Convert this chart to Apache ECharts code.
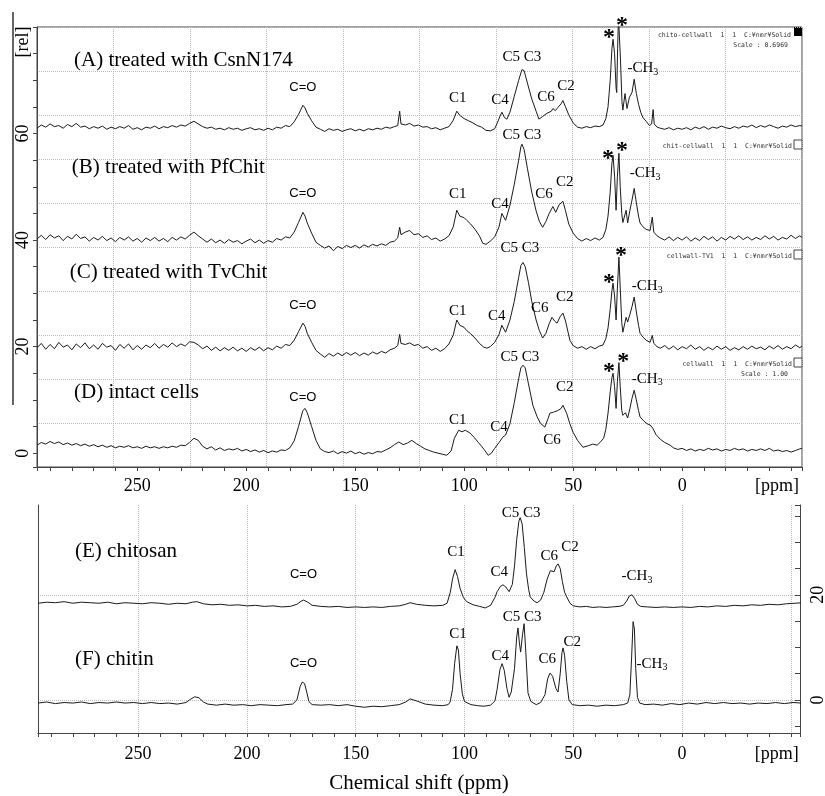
<!DOCTYPE html>
<html>
<head>
<meta charset="utf-8">
<script src="https://cdn.jsdelivr.net/npm/echarts@6/dist/echarts.min.js"></script>
<style>
  html, body { margin: 0; padding: 0; background: #fff; }
  #chart { width: 825px; height: 796px; }
</style>
</head>
<body>
<div id="chart"></div>
<script>
// spectra, [ppm, intensity]
var specA = [[296,61.0],[294,61.6],[292,61.2],[290,61.8],[288,61.3],[286,61.5],[284,61.0],[282,61.7],[280,61.3],[278,61.9],[276,61.2],[274,61.4],[272,60.9],[270,61.3],[268,61.0],[266,61.4],[264,60.8],[262,61.2],[260,60.9],[258,61.3],[256,61.0],[254,61.5],[252,60.8],[250,61.1],[248,60.7],[246,61.2],[244,61.0],[242,61.4],[240,60.9],[238,61.3],[236,61.1],[234,61.5],[232,61.2],[230,61.6],[228,61.4],[226,61.9],[224,62.3],[222,61.8],[220,61.3],[218,61.0],[216,61.2],[214,60.8],[212,61.0],[210,60.7],[208,61.1],[206,60.8],[204,61.0],[202,60.6],[200,60.9],[198,61.1],[196,60.7],[194,60.9],[192,60.6],[190,61.0],[188,60.7],[186,61.2],[184,61.0],[182,61.5],[180,61.3],[178,62.2],[176,63.6],[174,65.3],[173,64.8],[172,63.8],[170,62.4],[168,61.2],[166,60.8],[164,60.4],[162,60.9],[160,60.6],[158,60.8],[156,60.4],[154,60.7],[152,60.9],[150,60.5],[148,60.8],[146,60.5],[144,60.9],[142,60.7],[140,61.0],[138,60.8],[136,61.2],[134,61.0],[132,61.3],[130.5,61.5],[129.6,64.2],[129,61.8],[127,61.6],[125,61.9],[123,61.4],[121,61.6],[119,61.2],[117,61.3],[115,60.9],[113,61.1],[111,60.7],[109,61.0],[107,61.3],[105,62.5],[103.4,64.2],[102,63.4],[100,62.8],[98,62.4],[96,62.0],[94,61.5],[92,61.2],[90,60.6],[88,60.5],[86,60.9],[85,61.8],[83.5,63.3],[82.7,64.0],[81.5,63.0],[80.4,62.7],[79,64.0],[77,67.0],[75,70.0],[73.5,72.0],[72.5,71.8],[71,69.5],[69,66.5],[67,64.2],[65.7,62.7],[64,63.2],[62,63.8],[60,64.2],[59.3,64.7],[58.2,64.3],[57,64.9],[55.5,65.6],[54.7,66.2],[53.5,65.0],[52,63.5],[50,62.0],[48,61.2],[46,61.0],[44,61.3],[42,61.1],[40,61.4],[38,61.3],[36.3,61.6],[35,62.8],[34,65.0],[33,70.0],[32.2,76.0],[31.7,77.7],[31,75.0],[30.3,68.5],[30,67.7],[29.6,76],[29.2,82],[28.8,82],[28.3,74],[27.6,66],[27.2,64.4],[26.2,67.5],[25.3,64.7],[24.2,66.8],[23,67.7],[22,70.2],[21,67.5],[20,65.5],[19,64.0],[18,63.0],[16.5,62.3],[15,61.5],[14,61.8],[13.3,64.5],[12.8,61.8],[11.5,61.2],[10,61.0],[8,60.8],[6,61.1],[4,60.7],[2,61.0],[0,60.8],[-2,61.1],[-4,60.7],[-6,61.2],[-8,60.9],[-10,61.3],[-12,60.8],[-14,61.2],[-16,61.0],[-18,61.4],[-20,61.1],[-22,60.9],[-24,61.3],[-26,61.0],[-28,61.4],[-30,61.2],[-32,61.6],[-34,61.1],[-36,61.5],[-38,61.2],[-40,61.6],[-42,61.3],[-44,61.0],[-46,61.4],[-48,61.2],[-50,61.6],[-52,61.3],[-54,61.5],[-55,61.4]];

var specB = [[296,40.2],[294,40.9],[292,40.1],[290,41.0],[288,40.4],[286,40.8],[284,39.9],[282,40.7],[280,40.2],[278,41.1],[276,40.3],[274,40.6],[272,39.8],[270,40.5],[268,40.0],[266,40.7],[264,39.9],[262,40.4],[260,39.7],[258,40.5],[256,40.0],[254,40.6],[252,39.8],[250,40.3],[248,39.6],[246,40.4],[244,39.9],[242,40.5],[240,39.8],[238,40.3],[236,39.7],[234,40.5],[232,40.0],[230,40.6],[228,40.2],[226,40.9],[224,41.5],[222,40.8],[220,40.2],[218,39.6],[216,40.2],[214,39.5],[212,40.0],[210,39.4],[208,40.1],[206,39.6],[204,39.9],[202,39.3],[200,39.8],[198,40.2],[196,39.5],[194,40.0],[192,39.4],[190,39.9],[188,39.6],[186,40.3],[184,40.0],[182,40.6],[180,40.4],[178,41.5],[176,43.3],[174,45.2],[173,44.5],[172,43.2],[170,41.3],[168,39.6],[166,39.0],[164,38.5],[162,38.9],[160,38.0],[158,38.8],[156,38.4],[154,39.0],[152,38.6],[150,39.0],[148,38.5],[146,39.1],[144,38.7],[142,39.2],[140,38.9],[138,39.3],[136,39.0],[134,39.6],[132,39.8],[130.5,40.4],[129.6,42.4],[129,41.0],[127,41.5],[125,41.8],[123,41.0],[121,41.2],[119,40.5],[117,40.8],[115,40.1],[113,40.4],[111,39.8],[109,40.2],[107,40.8],[105,42.5],[103.4,45.6],[102,44.5],[100,44.2],[98.8,43.7],[97,43.0],[95,42.0],[93,40.8],[91.5,39.4],[90,39.2],[88,39.8],[86,40.6],[84,42.5],[82.7,45.0],[81,43.7],[79,46.5],[77,50.5],[75,55.0],[74,57.5],[73.5,58.0],[72.5,57.0],[71,53.5],[69,49.0],[67,45.5],[65.5,43.5],[64,42.4],[62.5,43.5],[61,45.0],[59.3,46.3],[58,45.2],[56.5,46.6],[54.7,47.3],[53.5,45.5],[52,43.0],[50,41.3],[48,40.3],[46,39.8],[44,40.3],[42,39.9],[40,40.4],[38,40.0],[36.3,40.5],[35,42.0],[34,44.5],[33,49.0],[32.2,54.5],[31.7,55.9],[31,52.0],[30.3,45.6],[29.7,52],[29,56.3],[28.4,50],[27.7,45],[27.2,43.3],[25.7,45.6],[25,43.2],[24,45.5],[23,47.5],[22,49.7],[21,47.0],[20,44.5],[19.3,43.2],[18,42.5],[16.5,42.0],[14.7,41.8],[13.7,44.3],[13,41.5],[11.5,40.8],[10,40.4],[8,40.0],[6,40.6],[4,39.9],[2,40.5],[0,40.0],[-2,40.6],[-4,39.8],[-6,40.4],[-8,39.9],[-10,40.7],[-12,40.1],[-14,40.6],[-16,39.8],[-18,40.5],[-20,40.0],[-22,40.7],[-24,40.2],[-26,40.8],[-28,40.1],[-30,40.6],[-32,40.0],[-34,40.5],[-36,40.1],[-38,40.8],[-40,40.2],[-42,40.7],[-44,40.0],[-46,40.5],[-48,40.2],[-50,40.9],[-52,40.3],[-54,40.8],[-55,40.5]];

var specC = [[296,19.8],[294,20.6],[292,19.5],[290,20.4],[288,19.6],[286,20.8],[284,19.9],[282,20.3],[280,19.4],[278,20.5],[276,19.8],[274,20.7],[272,19.6],[270,20.3],[268,19.5],[266,20.6],[264,19.9],[262,20.2],[260,19.3],[258,20.4],[256,19.7],[254,20.5],[252,19.4],[250,20.2],[248,19.5],[246,20.3],[244,19.8],[242,20.6],[240,19.7],[238,20.4],[236,19.9],[234,20.7],[232,20.0],[230,20.5],[228,20.1],[226,20.9],[224,20.8],[222,20.3],[220,19.6],[218,20.1],[216,19.3],[214,19.9],[212,19.2],[210,19.8],[208,19.3],[206,19.9],[204,19.2],[202,19.7],[200,19.1],[198,19.8],[196,19.3],[194,19.9],[192,19.2],[190,19.8],[188,19.4],[186,20.1],[184,19.7],[182,20.4],[180,20.2],[178,21.2],[176,22.8],[174,24.4],[173,23.8],[172,22.5],[170,20.8],[168,19.3],[166,18.6],[164,18.0],[162,18.7],[160,18.2],[158,18.8],[156,18.3],[154,18.9],[152,18.4],[150,18.9],[148,18.3],[146,18.8],[144,18.4],[142,19.0],[140,18.6],[138,19.1],[136,18.8],[134,19.4],[132,19.7],[130.5,20.2],[129.6,22.3],[129,20.6],[127,20.4],[125,20.7],[123,20.2],[121,20.4],[119,19.7],[117,20.0],[115,19.3],[113,19.7],[111,19.1],[109,19.6],[107,20.5],[105,22.2],[103.4,25.0],[102,24.0],[100,23.6],[98.8,23.0],[97,22.4],[95,21.6],[93,20.6],[91,19.9],[89.6,19.7],[88,20.0],[86,20.8],[84,22.3],[82.7,24.0],[81,22.7],[79,25.0],[77,28.5],[75,33.0],[74,35.2],[73,35.8],[72,35.0],[70.5,32.0],[69,28.5],[67,25.0],[65.5,23.0],[64,21.6],[62.5,22.5],[61,24.3],[59.7,25.5],[58.5,24.8],[57.4,24.4],[56,25.6],[54.7,26.3],[53.5,24.8],[51.5,21.2],[50,20.2],[48,19.7],[46,20.0],[44,19.5],[42,20.0],[40,19.6],[38,20.1],[36.3,20.3],[35,21.5],[34,23.5],[33,27.0],[32.2,30.5],[31.7,31.9],[31,29.5],[30.3,25.0],[29.7,31],[29,36.8],[28.4,31],[27.7,24.5],[27.2,22.7],[25.7,25.5],[25,24.6],[24,26.0],[23,27.5],[22,29.3],[21,26.5],[20,24.0],[19.3,22.5],[18,21.8],[16.5,21.2],[14.7,20.8],[13.7,22.1],[13,20.6],[11.5,20.0],[10,19.7],[8,20.2],[6,19.5],[4,20.1],[2,19.4],[0,20.0],[-2,19.6],[-4,20.3],[-6,19.5],[-8,20.0],[-10,19.3],[-12,19.9],[-14,19.4],[-16,20.1],[-18,19.5],[-20,20.0],[-22,19.3],[-24,19.8],[-26,19.4],[-28,20.0],[-30,19.5],[-32,20.1],[-34,19.6],[-36,19.9],[-38,19.4],[-40,20.1],[-42,19.6],[-44,20.2],[-46,19.5],[-48,20.0],[-50,19.6],[-52,20.3],[-54,19.8],[-55,20.1]];

var specD = [[296,1.5],[294,2.0],[292,1.7],[290,2.2],[288,1.8],[286,2.1],[284,1.6],[282,1.9],[280,1.5],[278,1.8],[276,1.4],[274,1.7],[272,1.3],[270,1.6],[268,1.2],[266,1.5],[264,1.1],[262,1.4],[260,1.0],[258,1.3],[256,1.1],[254,1.4],[252,1.0],[250,1.2],[248,0.9],[246,1.3],[244,1.0],[242,1.2],[240,0.9],[238,1.2],[236,1.0],[234,1.3],[232,1.1],[230,1.5],[228,1.4],[226,2.0],[224,2.8],[222,2.4],[220,1.3],[218,0.8],[216,1.2],[214,0.6],[212,1.0],[210,0.5],[208,0.8],[206,0.6],[204,0.9],[202,0.4],[200,0.7],[198,0.3],[196,0.6],[194,0.2],[192,0.5],[190,0.1],[188,0.4],[186,0.2],[184,0.6],[182,0.5],[180,1.0],[178,2.3],[176,5.0],[174,8.0],[173,8.4],[172,7.6],[170,5.0],[168,2.4],[166,0.8],[164,0.3],[162,0.1],[160,0.4],[158,-0.1],[156,0.3],[154,0.0],[152,0.4],[150,-0.1],[148,0.2],[146,-0.2],[144,0.1],[142,-0.1],[140,0.3],[138,0.2],[136,0.6],[134,1.0],[132,1.6],[130,2.1],[128,1.6],[126,1.9],[124,2.4],[122,1.8],[120,1.3],[118,0.8],[116,0.5],[114,0.2],[112,0.0],[110,-0.2],[108,-0.4],[106,0.4],[104.5,2.8],[102.5,4.3],[101,4.0],[99.5,4.3],[97.4,3.8],[95.5,3.0],[93.5,2.0],[92,1.3],[90,0.2],[89,-0.4],[87.5,0.0],[86,0.9],[84,2.0],[82.3,3.0],[81,3.4],[79,5.5],[77,9.5],[75,14.0],[74,16.0],[73,16.5],[72,16.0],[70.5,13.0],[68.5,9.0],[66.5,6.8],[65,5.6],[63,4.9],[61.5,6.5],[60.7,7.5],[59,7.7],[57,8.0],[55.5,8.4],[54.7,9.0],[53,7.5],[51.5,5.5],[50,3.9],[48,2.4],[45.5,1.1],[43,1.4],[41,1.7],[39,1.5],[37.7,2.0],[36,2.8],[35,4.5],[34,7.5],[33,11.5],[32.2,14.2],[31.7,15.0],[31,12.5],[30.3,8.4],[29.7,13.5],[29,17.0],[28.4,12.5],[27.7,8.0],[27.2,7.1],[26,7.6],[25,6.6],[24,8.3],[23,10.3],[22,11.8],[21,10.0],[20,8.0],[19.3,6.8],[17.5,6.0],[16,5.5],[14.7,5.3],[13.5,4.7],[12,3.5],[10,2.6],[8,2.0],[5.5,1.5],[4,1.0],[2,0.7],[0,0.9],[-2,0.5],[-4,0.8],[-6,0.4],[-8,0.7],[-10,0.5],[-12,0.9],[-14,0.6],[-16,0.8],[-18,0.4],[-20,0.7],[-22,0.5],[-24,0.9],[-26,0.6],[-28,0.8],[-30,0.4],[-32,0.7],[-34,0.5],[-36,0.8],[-38,0.5],[-40,0.9],[-42,0.4],[-44,0.6],[-46,0.3],[-48,0.5],[-50,0.2],[-52,0.5],[-54,0.8],[-55,0.9]];

var specE = [[296,18.4],[292,18.6],[288,18.5],[284,18.7],[280,18.4],[276,18.6],[272,18.5],[268,18.4],[264,18.6],[260,18.3],[256,18.5],[252,18.4],[248,18.3],[244,18.5],[240,18.4],[236,18.2],[232,18.4],[228,18.3],[225,18.6],[223,18.7],[220,18.3],[216,18.1],[212,18.2],[208,18.0],[204,18.1],[200,17.9],[196,18.0],[192,17.8],[188,17.9],[184,17.7],[180,17.8],[177,18.2],[175,18.8],[174,19.0],[172,18.6],[170,18.0],[166,17.8],[162,17.7],[158,17.8],[154,17.6],[150,17.7],[146,17.6],[142,17.7],[138,17.6],[134,17.8],[130,17.9],[127,18.2],[125,18.5],[122,18.2],[118,18.0],[114,17.9],[110,18.0],[108,18.4],[106.5,20.5],[105.5,23.0],[104.3,24.8],[103.2,23.5],[102,21.2],[100.5,19.5],[99,18.7],[96,18.1],[93,17.8],[90.5,17.5],[88,18.0],[86,19.5],[85,20.6],[83.5,21.6],[82.3,21.9],[81,21.5],[79.5,20.6],[78,22.0],[77,25.5],[76,30.5],[75,34.0],[74.4,34.7],[73.5,33.5],[72.5,29.0],[71.5,24.0],[70.5,21.0],[69.8,19.6],[68,18.8],[66.6,18.5],[65,19.0],[63.5,20.5],[62,23.0],[60.5,24.6],[59.7,24.8],[58.8,24.4],[57.8,25.5],[57,25.9],[56,25.0],[55,22.5],[54,20.5],[53,19.6],[51.5,18.4],[50,17.9],[47,17.7],[44,17.8],[41,17.6],[38,17.7],[35,17.6],[32,17.7],[29,17.8],[27,18.0],[25.5,18.8],[24.2,19.8],[23,20.0],[21.8,19.3],[20.5,18.2],[19,17.8],[16,17.7],[12,17.6],[8,17.7],[4,17.6],[0,17.7],[-4,17.6],[-8,17.8],[-12,17.7],[-16,17.9],[-20,17.8],[-24,18.0],[-28,17.9],[-32,18.1],[-36,18.0],[-40,18.2],[-44,18.1],[-48,18.3],[-52,18.4],[-55,18.5]];

var specF = [[296,-0.6],[292,-0.4],[288,-0.7],[284,-0.5],[280,-0.6],[276,-0.4],[272,-0.7],[268,-0.5],[264,-0.6],[260,-0.4],[256,-0.6],[252,-0.5],[248,-0.7],[244,-0.5],[240,-0.7],[236,-0.6],[232,-0.8],[228,-0.5],[226,0.1],[224,0.6],[222,0.4],[220,-0.4],[218,-0.8],[214,-1.0],[210,-0.8],[206,-1.0],[202,-0.9],[198,-1.1],[194,-0.9],[190,-1.0],[186,-1.1],[182,-0.9],[179,-0.8],[177,0.0],[175.5,2.6],[174.5,3.4],[173.5,3.1],[172.5,1.5],[171.5,-0.3],[170,-0.9],[166,-1.0],[162,-0.9],[158,-1.1],[154,-0.9],[150,-1.2],[146,-1.4],[142,-1.2],[138,-1.3],[134,-1.1],[130,-0.9],[127,-0.4],[125,0.2],[122,-0.2],[118,-0.8],[114,-1.0],[110,-1.1],[107.5,-0.9],[106.6,-0.4],[105.5,2.0],[104.5,7.0],[103.5,10.3],[102.8,9.5],[102,5.0],[101,1.2],[100,-0.3],[97,-0.9],[94,-1.1],[91,-1.2],[88,-1.0],[86,-0.2],[85,2.0],[83.7,5.8],[82.7,6.9],[81.7,5.6],[80.5,2.2],[79.5,0.5],[78.5,1.5],[77,6.0],[76,12.0],[75.4,13.7],[74.8,11.0],[74.2,9.1],[73.3,12.5],[72.6,14.5],[71.8,9.0],[70.8,1.3],[69.5,-0.3],[67,-0.9],[65,-0.5],[63,1.0],[61.8,4.0],[60.7,5.1],[59.5,4.5],[58,2.2],[57,1.5],[56,5.0],[55.2,9.0],[54.7,9.9],[54,8.5],[53,3.5],[52,0.0],[50.5,-0.9],[47,-1.1],[43,-1.0],[39,-1.2],[35,-1.0],[31,-1.1],[27,-0.9],[25,-0.6],[24,1.0],[23.2,8.0],[22.5,14.9],[21.9,13.5],[21.3,6.0],[20.5,0.5],[19.5,-0.6],[17,-0.9],[13,-0.8],[9,-1.0],[5,-0.7],[1,-0.9],[-3,-0.6],[-7,-0.8],[-11,-0.5],[-15,-0.7],[-19,-0.5],[-23,-0.7],[-27,-0.6],[-31,-0.8],[-35,-0.6],[-39,-0.7],[-43,-0.5],[-47,-0.7],[-51,-0.5],[-55,-0.6]];

// text annotations: [text, ppm, intensity, kind]
var notesTop = [
  ['(A) treated with CsnN174', 279, 73.7, 'title'],
  ['(B) treated with PfChit', 280, 53.7, 'title'],
  ['(C) treated with TvChit', 281, 34.0, 'title'],
  ['(D) intact cells', 279, 11.4, 'title'],
  ['C=O', 174, 68.7, 'co'], ['C1', 103, 66.6, 'peak'], ['C4', 83.6, 66.2, 'peak'],
  ['C5 C3', 73.5, 74.3, 'peak'], ['C6', 62.5, 66.8, 'peak'], ['C2', 53.3, 69.0, 'peak'],
  ['*', 33.5, 78.0, 'star'], ['*', 27.6, 80.3, 'star'], ['-CH{s|3}', 18, 72.2, 'ch3'],
  ['C=O', 174, 48.8, 'co'], ['C1', 103, 48.6, 'peak'], ['C4', 83.6, 46.7, 'peak'],
  ['C5 C3', 73.5, 59.8, 'peak'], ['C6', 63.4, 48.6, 'peak'], ['C2', 53.8, 50.8, 'peak'],
  ['*', 34, 55.3, 'star'], ['*', 27.6, 56.8, 'star'], ['-CH{s|3}', 17, 52.5, 'ch3'],
  ['C=O', 174, 27.8, 'co'], ['C1', 103, 26.6, 'peak'], ['C4', 85, 25.7, 'peak'],
  ['C5 C3', 74.4, 38.5, 'peak'], ['C6', 65.3, 27.2, 'peak'], ['C2', 53.8, 29.3, 'peak'],
  ['*', 33.5, 31.9, 'star'], ['*', 28, 37.1, 'star'], ['-CH{s|3}', 16, 31.3, 'ch3'],
  ['C=O', 174, 10.5, 'co'], ['C1', 103, 6.2, 'peak'], ['C4', 84, 4.9, 'peak'],
  ['C5 C3', 74.4, 18.0, 'peak'], ['C6', 59.7, 2.4, 'peak'], ['C2', 53.8, 12.4, 'peak'],
  ['*', 33.5, 15.2, 'star'], ['*', 27, 17.1, 'star'], ['-CH{s|3}', 16, 14.0, 'ch3']
];
var notesBottom = [
  ['(E) chitosan', 279, 28.2, 'title'],
  ['(F) chitin', 279, 7.6, 'title'],
  ['C=O', 174, 23.8, 'co'], ['C1', 103.9, 28.2, 'peak'], ['C4', 84, 24.4, 'peak'],
  ['C5 C3', 74, 35.6, 'peak'], ['C6', 61, 27.4, 'peak'], ['C2', 51.5, 29.0, 'peak'],
  ['-CH{s|3}', 20.7, 23.6, 'ch3'],
  ['C=O', 174, 6.9, 'co'], ['C1', 103, 12.6, 'peak'], ['C4', 83.6, 8.4, 'peak'],
  ['C5 C3', 73.5, 15.8, 'peak'], ['C6', 62, 7.8, 'peak'], ['C2', 50.5, 11.0, 'peak'],
  ['-CH{s|3}', 13.8, 6.9, 'ch3']
];

var serif = 'Liberation Serif';
var noteStyles = {
  title: { fontFamily: serif, fontSize: 21, align: 'left' },
  peak: { fontFamily: serif, fontSize: 15, align: 'center' },
  co: { fontFamily: 'Liberation Sans', fontSize: 13, align: 'center' },
  star: { fontFamily: serif, fontSize: 24, fontWeight: 'bold', align: 'center' },
  ch3: { fontFamily: serif, fontSize: 15, align: 'center',
    rich: { s: { fontFamily: serif, fontSize: 10, lineHeight: 10, verticalAlign: 'bottom', color: '#000' } } }
};

function noteData(list) {
  return list.map(function (n) {
    var st = Object.assign({ show: true, position: 'inside', verticalAlign: 'middle',
      color: '#000', textBorderWidth: 0, lineHeight: 18, formatter: n[0] }, noteStyles[n[3]]);
    return { value: [n[1], n[2]], label: st };
  });
}

function spectrum(data, xi, yi) {
  return {
    type: 'line', data: data, xAxisIndex: xi, yAxisIndex: yi,
    symbol: 'none', silent: true, clip: true,
    lineStyle: { color: '#1a1a1a', width: 1 }
  };
}

function notes(list, xi, yi) {
  return {
    type: 'scatter', data: noteData(list), xAxisIndex: xi, yAxisIndex: yi,
    symbolSize: 0, silent: true, clip: false, z: 5,
    itemStyle: { color: '#000', opacity: 1 }
  };
}

var axisColor = '#444';
var dotted = { show: true, lineStyle: { color: '#bbb', type: 'dotted', width: 1 } };
var ppmLabel = {
  fontFamily: serif, fontSize: 18, color: '#000',
  showMinLabel: false, showMaxLabel: false,
  formatter: function (v) { return v === -50 ? '{p|[ppm]}' : String(v); },
  rich: { p: { fontFamily: serif, fontSize: 18, color: '#000', padding: [0, 28, 0, 0] } }
};

var chart = echarts.init(document.getElementById('chart'), null, { renderer: 'canvas' });
chart.setOption({
  animation: false,
  backgroundColor: '#fff',
  grid: [
    { left: 37, right: 23, top: 27, height: 440, show: true, borderColor: axisColor, borderWidth: 1,
      outerBoundsMode: 'none', containLabel: false },
    { left: 38, right: 25, top: 505, height: 228, show: false,
      outerBoundsMode: 'none', containLabel: false }
  ],
  xAxis: [
    { type: 'value', gridIndex: 0, inverse: true, min: -55, max: 296, splitNumber: 7,
      axisLine: { show: true, onZero: false, lineStyle: { color: axisColor } },
      axisTick: { show: true, length: 4, lineStyle: { color: axisColor } },
      minorTick: { show: true, splitNumber: 5, length: 4, lineStyle: { color: axisColor } },
      axisLabel: Object.assign({ margin: 10 }, ppmLabel),
      splitLine: { show: false } },
    { type: 'value', gridIndex: 0, min: 0, max: 10, interval: 1, position: 'top',
      axisLine: { show: false, onZero: false }, axisTick: { show: false }, axisLabel: { show: false },
      splitLine: dotted },
    { type: 'value', gridIndex: 1, inverse: true, min: -54.2, max: 296, splitNumber: 7,
      axisLine: { show: true, onZero: false, lineStyle: { color: axisColor } },
      axisTick: { show: true, length: 4, lineStyle: { color: axisColor } },
      minorTick: { show: true, splitNumber: 5, length: 4, lineStyle: { color: axisColor } },
      axisLabel: Object.assign({ margin: 12 }, ppmLabel),
      splitLine: Object.assign({ showMinLine: false, showMaxLine: false }, dotted),
      name: 'Chemical shift (ppm)', nameLocation: 'middle', nameGap: 40,
      nameTextStyle: { fontFamily: serif, fontSize: 21, color: '#000' } }
  ],
  yAxis: [
    { type: 'value', gridIndex: 0, min: -2.6, max: 80, splitNumber: 4, position: 'left',
      axisLine: { show: true, onZero: false, lineStyle: { color: axisColor } },
      axisTick: { show: true, length: 4, lineStyle: { color: axisColor } },
      minorTick: { show: true, splitNumber: 4, length: 4, lineStyle: { color: axisColor } },
      axisLabel: { rotate: 90, margin: 5, fontFamily: serif, fontSize: 18, color: '#000',
        showMinLabel: false, showMaxLabel: false },
      splitLine: { show: false } },
    { type: 'value', gridIndex: 0, min: 0, max: 10, interval: 1, position: 'right',
      axisLine: { show: false, onZero: false }, axisTick: { show: false }, axisLabel: { show: false },
      splitLine: dotted },
    { type: 'value', gridIndex: 1, min: -6.3, max: 37.1, splitNumber: 2, position: 'right',
      axisLine: { show: true, onZero: false, lineStyle: { color: axisColor } },
      axisTick: { show: true, inside: true, length: 5, lineStyle: { color: axisColor } },
      minorTick: { show: true, splitNumber: 4, length: 5, lineStyle: { color: axisColor } },
      axisLabel: { rotate: 90, margin: 9, fontFamily: serif, fontSize: 18, color: '#000',
        showMinLabel: false, showMaxLabel: false },
      splitLine: Object.assign({ showMinLine: false, showMaxLine: false }, dotted) },
    { type: 'value', gridIndex: 1, min: -6.3, max: 37.1, position: 'left',
      axisLine: { show: true, onZero: false, lineStyle: { color: axisColor } },
      axisTick: { show: false }, axisLabel: { show: false }, splitLine: { show: false } }
  ],
  graphic: [
    { type: 'line', shape: { x1: 13, y1: 12, x2: 13, y2: 405 }, style: { stroke: '#333', lineWidth: 1.5 } },
    { type: 'text', x: 23, y: 42, rotation: Math.PI / 2,
      style: { text: '[rel]', font: '18px "Liberation Serif"', fill: '#000', align: 'center', verticalAlign: 'middle' } },
    { type: 'text', x: 791, y: 35, style: { text: 'chito-cellwall  1  1  C:¥nmr¥Solid', font: '6.5px "DejaVu Sans Mono"', fill: '#333', align: 'right', verticalAlign: 'middle' } },
    { type: 'text', x: 788, y: 45, style: { text: 'Scale : 0.6969', font: '6.5px "DejaVu Sans Mono"', fill: '#333', align: 'right', verticalAlign: 'middle' } },
    { type: 'rect', shape: { x: 794, y: 27, width: 8, height: 9 }, style: { fill: '#000' } },
    { type: 'text', x: 792, y: 146, style: { text: 'chit-cellwall  1  1  C:¥nmr¥Solid', font: '6.5px "DejaVu Sans Mono"', fill: '#333', align: 'right', verticalAlign: 'middle' } },
    { type: 'rect', shape: { x: 794, y: 140, width: 8, height: 9 }, style: { fill: '#fff', stroke: '#444', lineWidth: 1 } },
    { type: 'text', x: 792, y: 256, style: { text: 'cellwall-TV1  1  1  C:¥nmr¥Solid', font: '6.5px "DejaVu Sans Mono"', fill: '#333', align: 'right', verticalAlign: 'middle' } },
    { type: 'rect', shape: { x: 794, y: 250, width: 8, height: 9 }, style: { fill: '#fff', stroke: '#444', lineWidth: 1 } },
    { type: 'text', x: 792, y: 364, style: { text: 'cellwall  1  1  C:¥nmr¥Solid', font: '6.5px "DejaVu Sans Mono"', fill: '#333', align: 'right', verticalAlign: 'middle' } },
    { type: 'text', x: 788, y: 374, style: { text: 'Scale : 1.00', font: '6.5px "DejaVu Sans Mono"', fill: '#333', align: 'right', verticalAlign: 'middle' } },
    { type: 'rect', shape: { x: 794, y: 358, width: 8, height: 9 }, style: { fill: '#fff', stroke: '#444', lineWidth: 1 } }
  ],
  series: [
    spectrum(specA, 0, 0), spectrum(specB, 0, 0), spectrum(specC, 0, 0), spectrum(specD, 0, 0),
    spectrum(specE, 2, 2), spectrum(specF, 2, 2),
    notes(notesTop, 0, 0), notes(notesBottom, 2, 2)
  ]
});
</script>
</body>
</html>
